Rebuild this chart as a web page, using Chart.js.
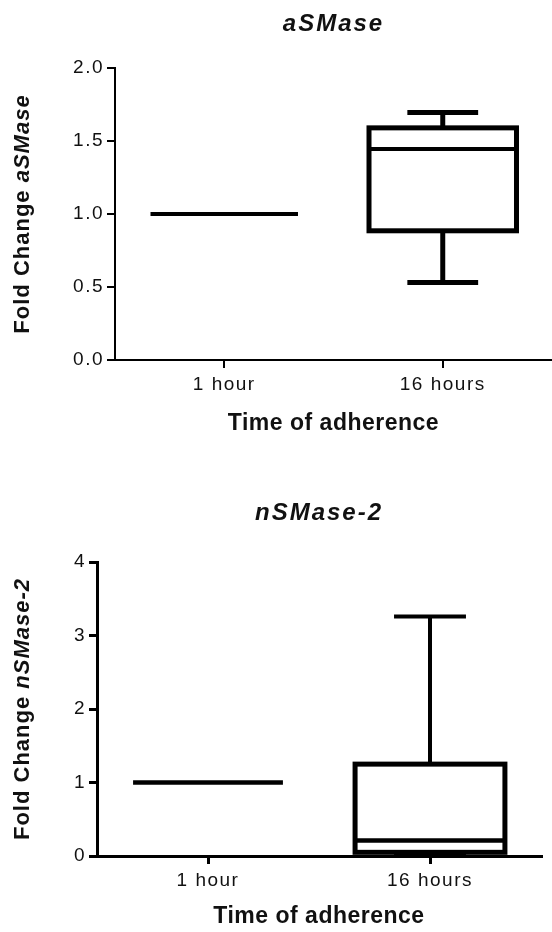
<!DOCTYPE html>
<html>
<head>
<meta charset="utf-8">
<script src="https://cdn.jsdelivr.net/npm/chart.js@4.4.0/dist/chart.umd.min.js"></script>
<style>
  body { margin: 0; background: #fff; }
  .panel { position: absolute; left: 0; width: 552px; height: 466px; }
</style>
</head>
<body>
<div class="panel" style="top:0"><canvas id="chartA" width="552" height="466"></canvas></div>
<div class="panel" style="top:466px"><canvas id="chartN" width="552" height="466"></canvas></div>
<script>
// Box plot data (fold change, 1 hour vs 16 hours)
const categories = ["1 hour", "16 hours"];

// aSMase
const aMin = [1, 0.53];
const aQ1 = [1, 0.885];
const aMed = [1, 1.445];
const aQ3 = [1, 1.59];
const aMax = [1, 1.695];
const aTicks = [0, 0.5, 1, 1.5, 2];

// nSMase-2
const nMin = [1, 0.01];
const nQ1 = [1, 0.05];
const nMed = [1, 0.21];
const nQ3 = [1, 1.25];
const nMax = [1, 3.26];
const nTicks = [0, 1, 2, 3, 4];

const FONT = "'Liberation Sans', Arial, sans-serif";
Chart.defaults.font.family = FONT;
Chart.defaults.color = "#111";

// tick labels in the export are spread out a bit
const spacing = {
  id: "spacing",
  beforeDraw(chart) {
    chart.ctx.letterSpacing = "1.5px";
  }
};

// whiskers, box and median drawn through the y scale
const boxes = {
  id: "boxes",
  afterDatasetsDraw(chart, args, opts) {
    const ctx = chart.ctx;
    const y = chart.scales.y;
    const bars = chart.getDatasetMeta(0).data;
    const s = opts.stats;
    const line = (x1, y1, x2, y2) => {
      ctx.beginPath();
      ctx.moveTo(x1, y1);
      ctx.lineTo(x2, y2);
      ctx.stroke();
    };
    ctx.save();
    ctx.strokeStyle = "#000";
    bars.forEach((bar, i) => {
      const x = bar.x;
      const half = bar.width / 2;
      const cap = half * 0.48;
      const yMin = y.getPixelForValue(s.min[i]);
      const yQ1 = y.getPixelForValue(s.q1[i]);
      const yMed = y.getPixelForValue(s.med[i]);
      const yQ3 = y.getPixelForValue(s.q3[i]);
      const yMax = y.getPixelForValue(s.max[i]);
      ctx.lineWidth = opts.whisker;
      if (s.max[i] > s.q3[i]) {
        line(x, yQ3, x, yMax);
        line(x - cap, yMax, x + cap, yMax);
      }
      if (s.min[i] < s.q1[i]) {
        line(x, yQ1, x, yMin);
        line(x - cap, yMin, x + cap, yMin);
      }
      if (s.q3[i] > s.q1[i]) {
        ctx.lineWidth = opts.box;
        ctx.fillStyle = "#fff";
        ctx.fillRect(x - half, yQ3, half * 2, yQ1 - yQ3);
        ctx.strokeRect(x - half, yQ3, half * 2, yQ1 - yQ3);
      }
      ctx.lineWidth = opts.median;
      line(x - half, yMed, x + half, yMed);
    });
    ctx.restore();
  }
};

// chart title, x title and the mixed-style y title
const titles = {
  id: "titles",
  afterDraw(chart, args, opts) {
    const ctx = chart.ctx;
    const area = chart.chartArea;
    const y = chart.scales.y;
    const cx = (area.left + area.right) / 2;
    ctx.save();
    ctx.fillStyle = "#111";
    ctx.textBaseline = "middle";
    ctx.textAlign = "center";

    ctx.letterSpacing = "2px";
    ctx.font = "italic bold 24px " + FONT;
    ctx.fillText(opts.gene, cx, opts.titleY);

    ctx.letterSpacing = "0.5px";
    ctx.font = "bold 23px " + FONT;
    ctx.fillText("Time of adherence", cx, opts.xTitleY);

    ctx.letterSpacing = "1px";
    ctx.textAlign = "left";
    const f1 = "bold 22px " + FONT;
    const f2 = "italic bold 22px " + FONT;
    ctx.font = f1;
    const w1 = ctx.measureText("Fold Change ").width;
    ctx.font = f2;
    const w2 = ctx.measureText(opts.gene).width;
    ctx.translate(opts.yTitleX, (y.top + y.bottom) / 2);
    ctx.rotate(-Math.PI / 2);
    ctx.font = f1;
    ctx.fillText("Fold Change ", -(w1 + w2) / 2, 0);
    ctx.font = f2;
    ctx.fillText(opts.gene, -(w1 + w2) / 2 + w1, 0);
    ctx.restore();
  }
};

function makeChart(id, cfg) {
  const floating = cfg.q1.map((v, i) => [v, cfg.q3[i]]);
  return new Chart(document.getElementById(id), {
    type: "bar",
    data: {
      labels: categories,
      datasets: [{
        data: floating,
        backgroundColor: "rgba(0,0,0,0)",
        borderWidth: 0,
        categoryPercentage: 1,
        barPercentage: 0.675
      }]
    },
    plugins: [spacing, boxes, titles],
    options: {
      responsive: false,
      animation: false,
      events: [],
      layout: { padding: { left: 0, right: cfg.padRight, top: cfg.padTop, bottom: 0 } },
      plugins: {
        legend: { display: false },
        tooltip: { enabled: false },
        boxes: {
          stats: { min: cfg.min, q1: cfg.q1, med: cfg.med, q3: cfg.q3, max: cfg.max },
          box: 5, whisker: cfg.whisker, median: cfg.median
        },
        titles: { gene: cfg.title, titleY: cfg.titleY, xTitleY: cfg.xTitleY, yTitleX: 23 }
      },
      scales: {
        x: {
          type: "category",
          afterFit: (scale) => { scale.height = cfg.xHeight; },
          grid: { offset: false, drawOnChartArea: false, tickLength: 8, color: "#000", lineWidth: cfg.axis },
          border: { color: "#000", width: cfg.axis },
          ticks: { padding: 5, color: "#111", font: { size: 19 } }
        },
        y: {
          min: 0,
          max: cfg.ticks[cfg.ticks.length - 1],
          afterFit: (scale) => { scale.width = cfg.yWidth; },
          afterBuildTicks: (scale) => { scale.ticks = cfg.ticks.map((v) => ({ value: v })); },
          grid: { drawOnChartArea: false, tickLength: 8, color: "#000", lineWidth: cfg.axis },
          border: { color: "#000", width: cfg.axis },
          ticks: {
            padding: 3,
            color: "#111",
            font: { size: 19 },
            callback: (v) => cfg.fmt(v)
          }
        }
      }
    }
  });
}

makeChart("chartA", {
  title: "aSMase",
  min: aMin, q1: aQ1, med: aMed, q3: aQ3, max: aMax,
  ticks: aTicks,
  fmt: (v) => v.toFixed(1),
  padRight: 0,
  padTop: 68,
  titleY: 24,
  xTitleY: 424,
  xHeight: 106,
  yWidth: 115,
  axis: 2,
  whisker: 5,
  median: 4
});

makeChart("chartN", {
  title: "nSMase-2",
  min: nMin, q1: nQ1, med: nMed, q3: nQ3, max: nMax,
  ticks: nTicks,
  fmt: (v) => String(v),
  padRight: 11,
  padTop: 96,
  titleY: 47,
  xTitleY: 451,
  xHeight: 76,
  yWidth: 97,
  axis: 3,
  whisker: 4,
  median: 4.5
});
</script>
</body>
</html>
